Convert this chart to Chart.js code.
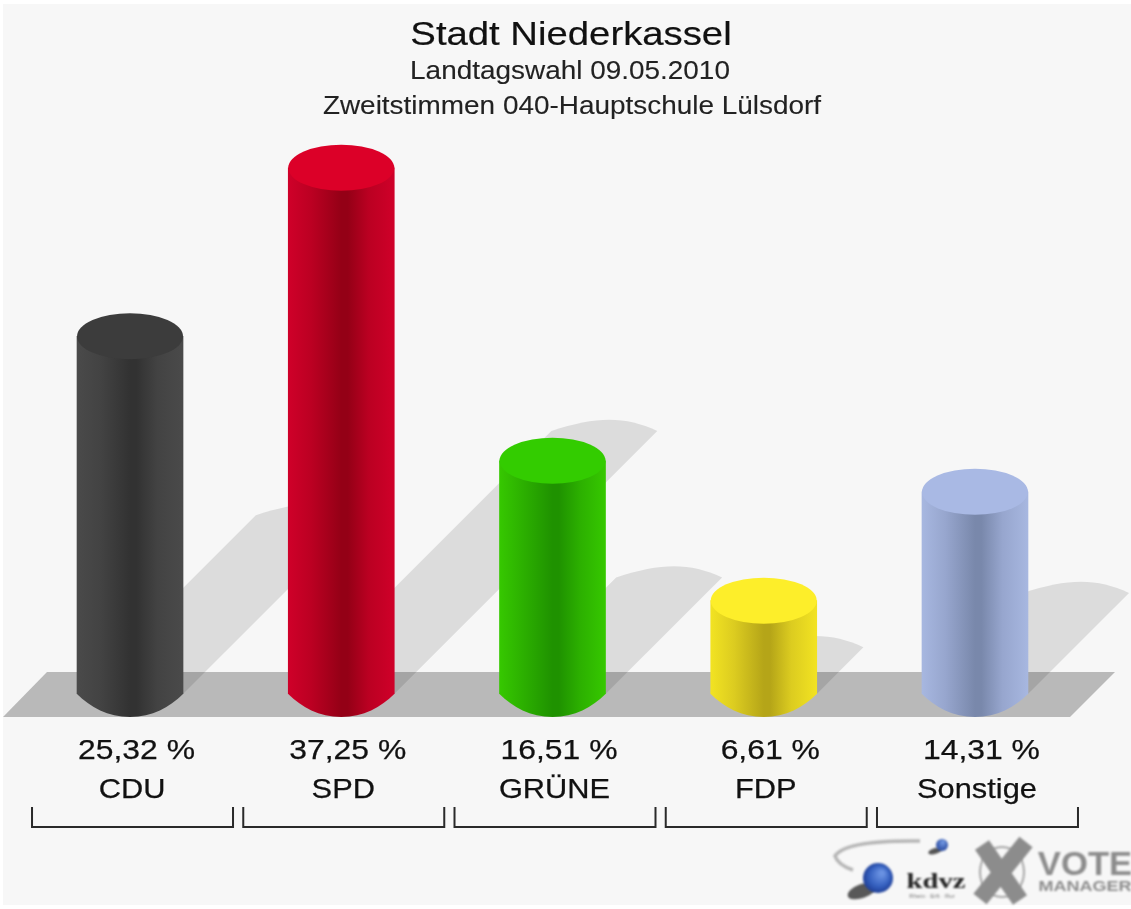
<!DOCTYPE html>
<html>
<head>
<meta charset="utf-8">
<title>Stadt Niederkassel</title>
<script src="https://cdn.jsdelivr.net/npm/chart.js@4/dist/chart.umd.min.js"></script>
<style>
  html, body { margin: 0; padding: 0; background: #fff; }
  canvas { display: block; filter: blur(0.65px); }
</style>
</head>
<body>
<canvas id="wahlChart" width="1131" height="909"></canvas>
<script>
// Data for the chart
const categories = ["CDU", "SPD", "GRÜNE", "FDP", "Sonstige"];
const shares = [25.32, 37.25, 16.51, 6.61, 14.31];

const titleText = "Stadt Niederkassel";
const subtitleLines = ["Landtagswahl 09.05.2010", "Zweitstimmen 040-Hauptschule Lülsdorf"];

// Cylinder colours per party
const capColors = ["#3c3c3c", "#dc0028", "#33cc00", "#fdee2a", "#a9b9e4"];
const edgeColors = ["#4a4a4a", "#cf0029", "#36c800", "#f2e322", "#a7b7e0"];
const midColors = ["#434343", "#bb0022", "#2cb000", "#dccc20", "#97a6ce"];
const darkColors = ["#323232", "#940016", "#1f9200", "#b5a518", "#7988ab"];

const BASE_Y_DROP = 23; // half height of the cylinder ellipses

function cylinderGradient(ctx, x, halfWidth, i) {
  const g = ctx.createLinearGradient(x - halfWidth, 0, x + halfWidth, 0);
  g.addColorStop(0, edgeColors[i]);
  g.addColorStop(0.22, midColors[i]);
  g.addColorStop(0.5, darkColors[i]);
  g.addColorStop(0.56, darkColors[i]);
  g.addColorStop(0.76, midColors[i]);
  g.addColorStop(1, edgeColors[i]);
  return g;
}

// text with a horizontal stretch, the reference image is wider than tall
function stretchedText(ctx, text, x, y, font, color, stretch, weight) {
  ctx.save();
  ctx.font = font;
  ctx.fillStyle = color;
  ctx.textAlign = "center";
  ctx.textBaseline = "alphabetic";
  ctx.translate(x, y);
  ctx.scale(stretch, 1);
  ctx.fillText(text, 0, 0);
  if (weight) {
    ctx.strokeStyle = color;
    ctx.lineWidth = weight;
    ctx.strokeText(text, 0, 0);
  }
  ctx.restore();
}

const groundPlugin = {
  id: "ground",
  beforeDraw(chart) {
    // light panel, a thin white rim stays around it
    chart.ctx.fillStyle = "#f7f7f7";
    chart.ctx.fillRect(3, 4, 1128, 901);
  },
  beforeDatasetsDraw(chart) {
    const ctx = chart.ctx;
    const baseY = chart.scales.y.getPixelForValue(0);

    // grey floor
    ctx.save();
    ctx.fillStyle = "#b9b9b9";
    ctx.beginPath();
    ctx.moveTo(3, baseY + BASE_Y_DROP);
    ctx.lineTo(47, baseY - 22);
    ctx.lineTo(1115, baseY - 22);
    ctx.lineTo(1070, baseY + BASE_Y_DROP);
    ctx.closePath();
    ctx.fill();

    // slanted shadows, half as long as the bar
    ctx.fillStyle = "rgba(0,0,0,0.105)";
    chart.getDatasetMeta(0).data.forEach((bar) => {
      const half = bar.width / 2;
      const len = (baseY - bar.y) / 2;
      const left = bar.x - half + len;
      const right = bar.x + half + len;
      const top = baseY - len;
      ctx.beginPath();
      ctx.moveTo(bar.x - half, baseY);
      ctx.lineTo(left, top);
      ctx.bezierCurveTo(left + 45, top - 15, right - 32, top - 15, right, top);
      ctx.lineTo(bar.x + half, baseY);
      ctx.closePath();
      ctx.fill();
    });
    ctx.restore();
  },
  afterDatasetsDraw(chart) {
    const ctx = chart.ctx;
    const baseY = chart.scales.y.getPixelForValue(0);
    chart.getDatasetMeta(0).data.forEach((bar, i) => {
      const half = bar.width / 2;
      const d = BASE_Y_DROP;
      // round foot, flatter than a true ellipse at the sides
      ctx.fillStyle = cylinderGradient(ctx, bar.x, half, i);
      ctx.beginPath();
      ctx.moveTo(bar.x - half, baseY);
      ctx.bezierCurveTo(bar.x - 40, baseY + 13, bar.x - 22, baseY + d, bar.x, baseY + d);
      ctx.bezierCurveTo(bar.x + 22, baseY + d, bar.x + 40, baseY + 13, bar.x + half, baseY);
      ctx.closePath();
      ctx.fill();
      // top face
      ctx.fillStyle = capColors[i];
      ctx.beginPath();
      ctx.ellipse(bar.x, bar.y, half, d, 0, 0, 2 * Math.PI);
      ctx.fill();
    });
  }
};

const labelPlugin = {
  id: "labels",
  afterDraw(chart) {
    const ctx = chart.ctx;
    const x = chart.scales.x;

    stretchedText(ctx, titleText, 571, 45, "34px 'Liberation Sans'", "#111", 1.126, 0.2);
    stretchedText(ctx, subtitleLines[0], 570, 78.5, "25px 'Liberation Sans'", "#222", 1.117, 0.1);
    stretchedText(ctx, subtitleLines[1], 572, 114, "25px 'Liberation Sans'", "#222", 1.117, 0.1);

    categories.forEach((name, i) => {
      const cx = x.getPixelForValue(i);
      const value = shares[i].toFixed(2).replace(".", ",") + " %";
      stretchedText(ctx, value, cx + 6.5, 758.5, "28px 'Liberation Sans'", "#111", 1.138, 0.25);
      stretchedText(ctx, name, cx + 2, 797.5, "28px 'Liberation Sans'", "#111", 1.1, 0.25);

      // bracket under each party
      const left = cx - 98;
      const right = cx + 103;
      ctx.strokeStyle = "#2a2a2a";
      ctx.lineWidth = 2;
      ctx.beginPath();
      ctx.moveTo(left, 807);
      ctx.lineTo(left, 827);
      ctx.lineTo(right, 827);
      ctx.lineTo(right, 807);
      ctx.stroke();
    });

    drawLogos(ctx);
  }
};

function drawLogos(ctx) {
  ctx.save();
  ctx.filter = "blur(0.8px)";
  // kdvz swoosh
  ctx.strokeStyle = "#b5b5b5";
  ctx.lineWidth = 3.5;
  ctx.beginPath();
  ctx.moveTo(920, 841);
  ctx.quadraticCurveTo(845, 840, 835, 856);
  ctx.quadraticCurveTo(838, 865, 853, 870);
  ctx.stroke();

  // small ball
  ctx.fillStyle = "rgba(30,30,30,0.75)";
  ctx.beginPath();
  ctx.ellipse(935, 851, 7, 3, -0.3, 0, 2 * Math.PI);
  ctx.fill();
  let ball = ctx.createRadialGradient(943, 842, 1, 942, 845, 7);
  ball.addColorStop(0, "#6f95e0");
  ball.addColorStop(1, "#1f3f96");
  ctx.fillStyle = ball;
  ctx.beginPath();
  ctx.arc(942, 845, 6, 0, 2 * Math.PI);
  ctx.fill();

  // big ball with its shadow
  ctx.fillStyle = "rgba(20,20,20,0.7)";
  ctx.beginPath();
  ctx.ellipse(862, 891, 15, 7, -0.35, 0, 2 * Math.PI);
  ctx.fill();
  ball = ctx.createRadialGradient(882, 873, 2, 878, 878, 16);
  ball.addColorStop(0, "#6a92e2");
  ball.addColorStop(0.6, "#3560bf");
  ball.addColorStop(1, "#1c3a90");
  ctx.fillStyle = ball;
  ctx.beginPath();
  ctx.arc(878, 878, 15, 0, 2 * Math.PI);
  ctx.fill();

  stretchedText(ctx, "kdvz", 936, 888, "bold 22px 'Liberation Serif'", "#222", 1.3);
  stretchedText(ctx, "Rhein · Erft · Rur", 932, 898, "5px 'Liberation Sans'", "#777", 1.2);

  // vote manager cross
  ctx.strokeStyle = "#a6a6a6";
  ctx.lineWidth = 2;
  ctx.beginPath();
  ctx.ellipse(1002, 872, 22, 25, 0, 0, 2 * Math.PI);
  ctx.stroke();
  ctx.strokeStyle = "#8c8c8c";
  ctx.lineWidth = 17;
  ctx.beginPath();
  ctx.moveTo(982, 845);
  ctx.lineTo(1020, 900);
  ctx.moveTo(1026, 842);
  ctx.lineTo(980, 899);
  ctx.stroke();

  stretchedText(ctx, "VOTE", 1085, 875, "bold 33px 'Liberation Sans'", "#8c8c8c", 1.05);
  stretchedText(ctx, "MANAGER", 1085, 891, "bold 15px 'Liberation Sans'", "#8c8c8c", 1.2);
  ctx.restore();
}

const data = {
  labels: categories,
  datasets: [{
    label: "Zweitstimmen",
    data: shares,
    barThickness: 106,
    borderWidth: 0,
    backgroundColor: (c) => {
      const scale = c.chart.scales.x;
      if (c.dataIndex === undefined || !scale) return "#888";
      const px = scale.getPixelForValue(c.dataIndex);
      if (!Number.isFinite(px)) return "#888"; // scale has no size yet
      return cylinderGradient(c.chart.ctx, px, 53, c.dataIndex);
    }
  }]
};

const config = {
  type: "bar",
  data: data,
  options: {
    responsive: false,
    animation: false,
    layout: { padding: { left: 24.4, right: 50.4, top: 129, bottom: 215 } },
    plugins: {
      legend: { display: false },
      title: { display: false },
      tooltip: { enabled: false }
    },
    scales: {
      x: { display: false, grid: { display: false } },
      y: { display: false, min: 0, max: 40, grid: { display: false } }
    }
  },
  plugins: [groundPlugin, labelPlugin]
};

window.addEventListener("DOMContentLoaded", () => {
  const wahlChart = new Chart(document.getElementById("wahlChart"), config);
});
</script>
</body>
</html>
